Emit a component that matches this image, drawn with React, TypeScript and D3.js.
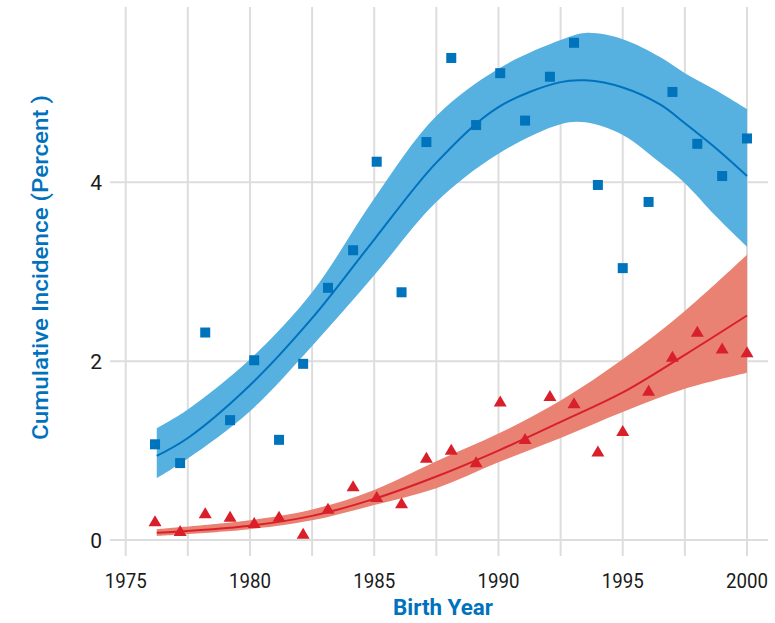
import React from 'react';
import * as d3 from 'd3';

// observed points (x = birth year position on axis)
const birthYear = [1976.18, 1977.19, 1978.2, 1979.2, 1980.17, 1981.17, 1982.14, 1983.14, 1984.15, 1985.1, 1986.1, 1987.1, 1988.1, 1989.1, 1990.07, 1991.07, 1992.07, 1993.04, 1994.0, 1995.0, 1996.04, 1997.0, 1998.0, 1999.0, 2000.0];
const bluePts = [1.07, 0.86, 2.32, 1.34, 2.01, 1.12, 1.97, 2.82, 3.24, 4.23, 2.77, 4.45, 5.39, 4.64, 5.22, 4.69, 5.18, 5.56, 3.97, 3.04, 3.78, 5.01, 4.43, 4.07, 4.49];
const redPts = [0.21, 0.1, 0.3, 0.26, 0.19, 0.26, 0.07, 0.35, 0.6, 0.48, 0.41, 0.92, 1.01, 0.87, 1.55, 1.13, 1.61, 1.53, 0.99, 1.22, 1.67, 2.05, 2.33, 2.14, 2.1];

// fitted curves with confidence bands
const blueFitYear = [1976.25, 1977.5, 1980, 1982.5, 1985, 1987.5, 1990, 1992.5, 1993.5, 1995, 1996.5, 1997.5, 1998.75, 2000];
const blueFit = [0.94, 1.14, 1.73, 2.48, 3.36, 4.22, 4.84, 5.12, 5.14, 5.06, 4.87, 4.66, 4.38, 4.07];
const blueLo = [0.69, 0.91, 1.44, 2.17, 2.96, 3.78, 4.32, 4.65, 4.67, 4.53, 4.22, 3.99, 3.62, 3.28];
const blueHi = [1.25, 1.46, 2.02, 2.77, 3.82, 4.74, 5.27, 5.59, 5.67, 5.6, 5.4, 5.22, 5.03, 4.82];

const redFitYear = [1976.25, 1980, 1982.5, 1985, 1987.5, 1990, 1992.5, 1995, 1997.5, 2000];
const redFit = [0.08, 0.16, 0.27, 0.46, 0.71, 1.0, 1.32, 1.65, 2.07, 2.51];
const redLo = [0.045, 0.12, 0.22, 0.39, 0.58, 0.87, 1.14, 1.43, 1.69, 1.87];
const redHi = [0.12, 0.22, 0.34, 0.56, 0.88, 1.19, 1.56, 2.02, 2.56, 3.19];

const xTicks = [1975, 1980, 1985, 1990, 1995, 2000];
const xGrid = [1975, 1977.5, 1980, 1982.5, 1985, 1987.5, 1990, 1992.5, 1995, 1997.5, 2000];
const yTicks = [0, 2, 4];

const W = 775;
const H = 623;
const FONT = 'Roboto, "Noto Sans", sans-serif';

export default function App() {
  const x = d3.scaleLinear().domain([1975, 2000]).range([125.7, 747]);
  const y = d3.scaleLinear().domain([0, 5.96]).range([540, 7]);
  const curve = d3.curveCatmullRom.alpha(0.5);

  const band = (years: number[], lo: number[], hi: number[]) =>
    d3.area<number>().curve(curve)
      .x((_, i) => x(years[i])).y0((_, i) => y(lo[i])).y1((_, i) => y(hi[i]))(years);
  const line = (years: number[], vals: number[]) =>
    d3.line<number>().curve(curve)
      .x((_, i) => x(years[i])).y((_, i) => y(vals[i]))(years);

  const tri = (cx: number, cy: number) => `M${cx},${cy - 6}L${cx + 6.5},${cy + 5}L${cx - 6.5},${cy + 5}Z`;

  return (
    <svg width={W} height={H} style={{ position: 'absolute', left: 0, top: 0, background: '#fff' }}>
      {/* grid */}
      {xGrid.map(t => (
        <line key={'vx' + t} x1={x(t)} x2={x(t)} y1={7} y2={556} stroke="#dddddd" strokeWidth={2} />
      ))}
      {yTicks.map(t => (
        <line key={'hy' + t} x1={110} x2={768} y1={y(t)} y2={y(t)} stroke="#dddddd" strokeWidth={2} />
      ))}

      {/* bands and fits */}
      <path d={band(blueFitYear, blueLo, blueHi) || ''} fill="#56b0e0" />
      <path d={line(blueFitYear, blueFit) || ''} fill="none" stroke="#0072bd" strokeWidth={2} />
      <path d={band(redFitYear, redLo, redHi) || ''} fill="#e98272" />
      <path d={line(redFitYear, redFit) || ''} fill="none" stroke="#d9202a" strokeWidth={2} />

      {/* points */}
      {birthYear.map((yr, i) => (
        <rect key={'b' + i} x={x(yr) - 5} y={y(bluePts[i]) - 5} width={10} height={10} fill="#0073bd" />
      ))}
      {birthYear.map((yr, i) => (
        <path key={'r' + i} d={tri(x(yr), y(redPts[i]))} fill="#d9202a" />
      ))}

      {/* tick labels */}
      {xTicks.map(t => (
        <text key={'xt' + t} x={x(t)} y={588} textAnchor="middle" fontFamily={FONT} fontSize={21}
          textLength={42} lengthAdjust="spacingAndGlyphs" fill="#1a1a1a">{t}</text>
      ))}
      {yTicks.map(t => (
        <text key={'yt' + t} x={102} y={y(t) + 7.5} textAnchor="end" fontFamily={FONT} fontSize={21}
          fill="#1a1a1a">{t}</text>
      ))}

      {/* axis titles */}
      <text x={443} y={615} textAnchor="middle" fontFamily={FONT} fontSize={22} fontWeight={700}
        textLength={100} lengthAdjust="spacingAndGlyphs" fill="#0072bd">Birth Year</text>
      <text transform={`translate(48,${267.5}) rotate(-90)`} textAnchor="middle" fontFamily={FONT}
        fontSize={22} fontWeight={500} textLength={345} lengthAdjust="spacingAndGlyphs" fill="#0072bd">
        Cumulative Incidence (Percent )
      </text>
    </svg>
  );
}
